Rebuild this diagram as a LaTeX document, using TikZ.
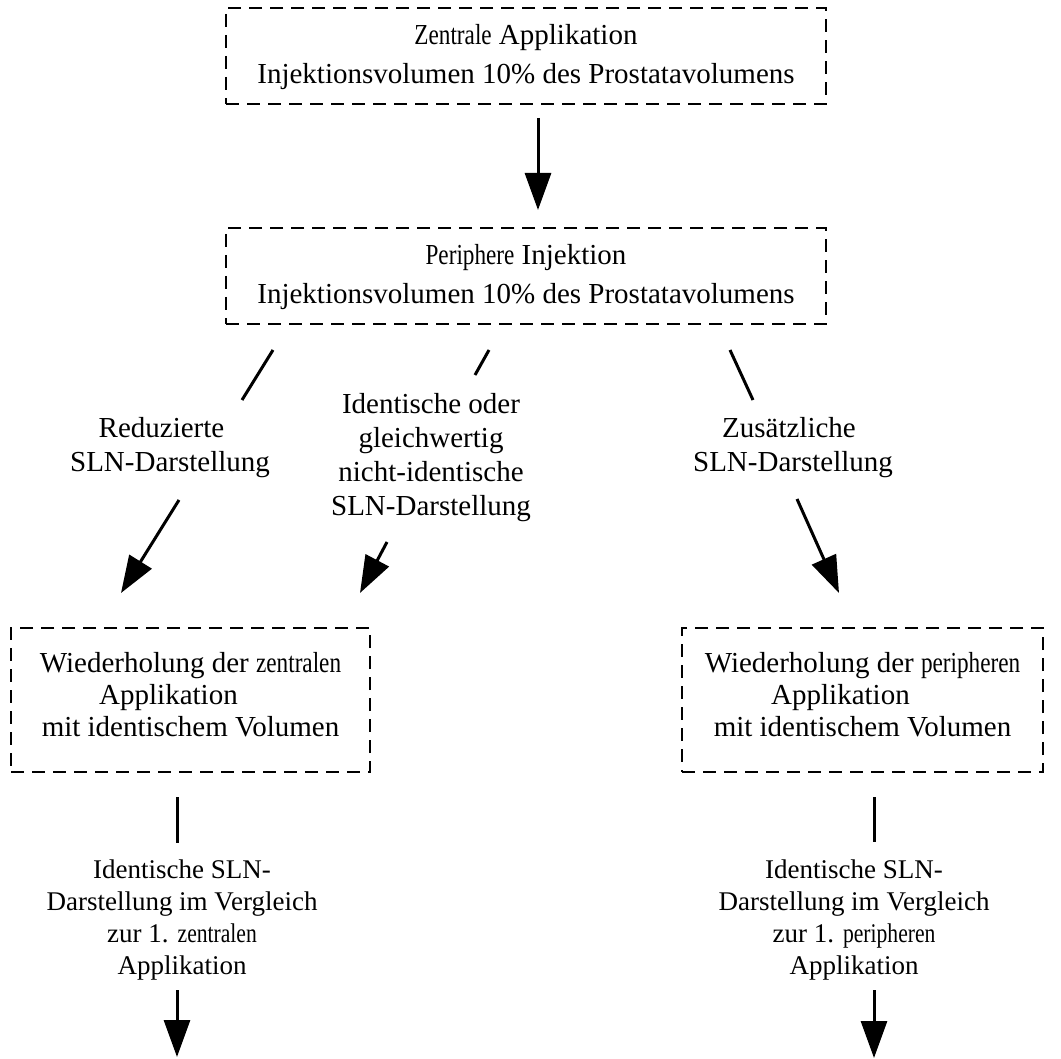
\documentclass[tikz,border=0pt]{standalone}
\usepackage{fontspec}
\usepackage{graphicx}
\setmainfont{Liberation Serif}
\usetikzlibrary{arrows.meta}
\newcommand{\deco}[1]{\scalebox{0.8}[1]{#1}}
\begin{document}
\begin{tikzpicture}[x=1pt,y=-1pt,>={Triangle[length=37pt,width=26pt]},
box/.style = {draw, dash pattern=on 13pt off 8pt, line width=2pt, align=center, inner sep=0pt, font=\fontsize{29}{34}\selectfont},
lbl/.style = {align=center, inner sep=0pt, font=\fontsize{29}{34}\selectfont},
sublbl/.style = {align=center, inner sep=0pt, font=\fontsize{27}{32}\selectfont},
con/.style = {line width=3pt},]
\useasboundingbox (0,0) rectangle (1061,1059);
\node (Z) at (526,56)[box,minimum width=600pt,minimum height=96pt] {\deco{Zentrale} Applikation\\[5pt]Injektionsvolumen 10\% des Prostatavolumens\\[-30pt]};
\node (P) at (526,276)[box,minimum width=600pt,minimum height=96pt] {\deco{Periphere} Injektion\\[5pt]Injektionsvolumen 10\% des Prostatavolumens\\[-30pt]};
\node (R) at (170,448)[lbl] {Reduzierte\rule{17pt}{0pt}\\SLN-Darstellung};
\node (I) at (431,458)[lbl] {Identische oder\\gleichwertig\\nicht-identische\\SLN-Darstellung};
\node (U) at (793,448)[lbl] {Zusätzliche\rule{8pt}{0pt}\\SLN-Darstellung};
\node (WZ) at (190.5,700)[box,minimum width=359pt,minimum height=144pt,font=\fontsize{29}{32}\selectfont] {Wiederholung der \deco{zentralen}\\Applikation\rule{44pt}{0pt}\\mit identischem Volumen\\[-20pt]};
\node (WP) at (862.5,700)[box,minimum width=361pt,minimum height=144pt,font=\fontsize{29}{32}\selectfont] {Wiederholung der \deco{peripheren}\\Applikation\rule{44pt}{0pt}\\mit identischem Volumen\\[-20pt]};
\node (VZ) at (182,920)[sublbl] {Identische SLN-\\Darstellung im Vergleich\\zur 1. \deco{zentralen}\\Applikation};
\node (VP) at (854,920)[sublbl] {Identische SLN-\\Darstellung im Vergleich\\zur 1. \deco{peripheren}\\Applikation};
% Anschluesse
\coordinate (z1) at (538,118);
\coordinate (z2) at (538,210);
\coordinate (r1) at (273,350);
\coordinate (r2) at (242,400);
\coordinate (r3) at (179,500);
\coordinate (r4) at (121,593);
\coordinate (i1) at (489,350);
\coordinate (i2) at (475,375);
\coordinate (i3) at (387,542);
\coordinate (i4) at (360,593);
\coordinate (u1) at (730,350);
\coordinate (u2) at (753,400);
\coordinate (u3) at (797,499);
\coordinate (u4) at (839,593);
\coordinate (a1) at (177,797);
\coordinate (a2) at (177,843);
\coordinate (a3) at (177,990);
\coordinate (a4) at (177,1057);
\coordinate (b1) at (874,797);
\coordinate (b2) at (874,842);
\coordinate (b3) at (874,990);
\coordinate (b4) at (874,1058);
\draw[con,->] (z1)--(z2);
\draw[con] (r1)--(r2);
\draw[con,->] (r3)--(r4);
\draw[con] (i1)--(i2);
\draw[con,->] (i3)--(i4);
\draw[con] (u1)--(u2);
\draw[con,->] (u3)--(u4);
\draw[con] (a1)--(a2);
\draw[con,->] (a3)--(a4);
\draw[con] (b1)--(b2);
\draw[con,->] (b3)--(b4);
\end{tikzpicture}
\end{document}
